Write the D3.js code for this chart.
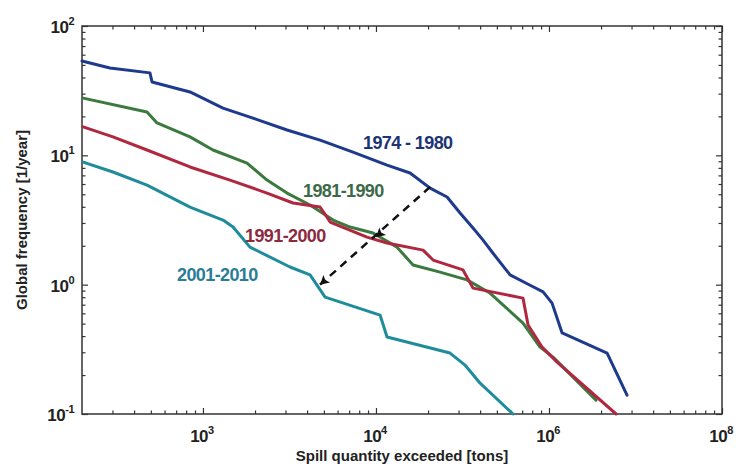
<!DOCTYPE html>
<html>
<head>
<meta charset="utf-8">
<script src="https://cdn.jsdelivr.net/npm/d3@7/dist/d3.min.js"></script>
<style>
  body { margin: 0; background: #fff; }
  svg { font-family: "Liberation Sans", Arial, sans-serif; }
</style>
</head>
<body>
<div id="chart"></div>
<script>
// spill quantity exceeded [tons] and global frequency [1/year]
const spill7480 = [200, 290, 494, 508, 842, 1306, 1946, 3062, 4753, 7362, 11590, 15740, 20560, 25760, 30630, 36390, 41590, 47500, 59560, 77790, 92470, 104200, 119100, 216700, 282500];
const freq7480  = [53.6, 47.3, 43.4, 36.9, 30.9, 23.2, 19.4, 15.7, 13.1, 10.6, 8.41, 7.30, 5.58, 4.76, 3.58, 2.74, 2.21, 1.75, 1.19, 0.99, 0.88, 0.72, 0.423, 0.296, 0.140];

const spill8190 = [203, 475, 543, 842, 1143, 1798, 2346, 3062, 4160, 5650, 7079, 9617, 13240, 16380, 23450, 33590, 45600, 70790, 88770, 105600, 187000];
const freq8190  = [27.7, 21.6, 17.8, 13.9, 11.0, 8.71, 6.44, 5.11, 4.13, 3.16, 2.79, 2.51, 1.95, 1.42, 1.25, 1.09, 0.861, 0.505, 0.329, 0.275, 0.128];

const spill9100 = [203, 302, 475, 842, 1433, 2346, 3318, 4753, 5213, 5431, 8873, 11590, 18710, 21390, 31850, 36390, 70790, 75690, 91200, 111400, 244300];
const freq9100  = [16.6, 13.9, 11.0, 8.13, 6.44, 5.11, 4.28, 3.98, 3.33, 3.05, 2.33, 2.10, 1.85, 1.55, 1.30, 0.94, 0.787, 0.488, 0.329, 0.252, 0.1];

const spill0110 = [203, 302, 475, 842, 1306, 1493, 1870, 3185, 4160, 4563, 5082, 10560, 11590, 26800, 32710, 39990, 61960];
const freq0110  = [8.87, 7.43, 5.89, 3.98, 3.16, 2.79, 1.95, 1.37, 1.19, 0.993, 0.802, 0.582, 0.394, 0.296, 0.239, 0.173, 0.1];

const periods = ['1974 - 1980', '1981-1990', '1991-2000', '2001-2010'];

// dashed arrow between the curves
const arrowSpill = [20560, 10000, 4750];
const arrowFreq  = [5.7, 2.33, 1.0];

const xTicks = [1e3, 1e4, 1e5, 1e6];
const xTickExp = ['3', '4', '6', '8'];
const yTicks = [0.1, 1, 10, 100];
const yTickExp = ['-1', '0', '1', '2'];

// frame
const WIDTH = 736, HEIGHT = 466;
const MARGINS = {left: 82, right: 14, top: 26, bottom: 52};

const svg = d3.select('#chart').append('svg')
  .attr('width', WIDTH)
  .attr('height', HEIGHT);

const x = d3.scaleLog().domain([200, 1e6]).range([MARGINS.left, WIDTH - MARGINS.right]);
const y = d3.scaleLog().domain([0.1, 100]).range([HEIGHT - MARGINS.bottom, MARGINS.top]);

// minor ticks 2..9 per decade
function minors(dom) {
  const out = [];
  for (let e = Math.floor(Math.log10(dom[0])); e <= Math.ceil(Math.log10(dom[1])); e++) {
    for (let k = 2; k <= 9; k++) {
      const v = k * Math.pow(10, e);
      if (v > dom[0] && v < dom[1]) out.push(v);
    }
  }
  return out;
}
const xMinor = minors(x.domain());
const yMinor = minors(y.domain());

const axisColor = '#333';
function drawAxis(axisFn, scale, vals, size, transform) {
  const g = svg.append('g')
    .attr('transform', transform)
    .call(axisFn(scale).tickValues(vals).tickSize(size).tickFormat(''));
  g.select('.domain').remove();
  g.selectAll('line').attr('stroke', axisColor).attr('stroke-width', 1.2);
}
const bottomT = `translate(0,${HEIGHT - MARGINS.bottom})`;
const topT = `translate(0,${MARGINS.top})`;
const leftT = `translate(${MARGINS.left},0)`;
const rightT = `translate(${WIDTH - MARGINS.right},0)`;
drawAxis(d3.axisBottom, x, xTicks, -6, bottomT);
drawAxis(d3.axisBottom, x, xMinor, -3.5, bottomT);
drawAxis(d3.axisTop, x, xTicks, -6, topT);
drawAxis(d3.axisTop, x, xMinor, -3.5, topT);
drawAxis(d3.axisLeft, y, yTicks, -6, leftT);
drawAxis(d3.axisLeft, y, yMinor, -3.5, leftT);
drawAxis(d3.axisRight, y, yTicks, -6, rightT);
drawAxis(d3.axisRight, y, yMinor, -3.5, rightT);

// box
svg.append('rect')
  .attr('x', MARGINS.left).attr('y', MARGINS.top)
  .attr('width', WIDTH - MARGINS.left - MARGINS.right)
  .attr('height', HEIGHT - MARGINS.top - MARGINS.bottom)
  .attr('fill', 'none')
  .attr('stroke', axisColor)
  .attr('stroke-width', 1.5);

// tick labels: 10 with superscript
const labelStyle = g => g.attr('font-size', 17).attr('font-weight', 'bold').attr('fill', '#222').attr('letter-spacing', -0.5);
xTicks.forEach((v, i) => {
  const t = svg.append('text')
    .attr('x', x(v) - 1)
    .attr('y', HEIGHT - MARGINS.bottom + 28)
    .attr('text-anchor', 'middle')
    .call(labelStyle);
  t.append('tspan').text('10');
  t.append('tspan').attr('dy', -8).attr('font-size', 11).text(xTickExp[i]);
});
yTicks.forEach((v, i) => {
  const t = svg.append('text')
    .attr('x', MARGINS.left - 8)
    .attr('y', y(v) + 7)
    .attr('text-anchor', 'end')
    .call(labelStyle);
  t.append('tspan').text('10');
  t.append('tspan').attr('dy', -8).attr('font-size', 11).text(yTickExp[i]);
});

// axis titles
svg.append('text')
  .attr('x', (MARGINS.left + WIDTH - MARGINS.right) / 2 + 0)
  .attr('y', HEIGHT - 5)
  .attr('text-anchor', 'middle')
  .attr('font-size', 15).attr('font-weight', 'bold').attr('fill', '#222')
  .text('Spill quantity exceeded [tons]');
svg.append('text')
  .attr('transform', `translate(27,${(MARGINS.top + HEIGHT - MARGINS.bottom) / 2}) rotate(-90)`)
  .attr('text-anchor', 'middle')
  .attr('font-size', 15).attr('font-weight', 'bold').attr('fill', '#222')
  .text('Global frequency [1/year]');

// curves
const line = d3.line().x(d => x(d[0])).y(d => y(d[1]));
const series = [
  {xs: spill7480, ys: freq7480, color: '#1e3a8c'},
  {xs: spill8190, ys: freq8190, color: '#3b7a3e'},
  {xs: spill9100, ys: freq9100, color: '#b0283f'},
  {xs: spill0110, ys: freq0110, color: '#1f8c9b'}
];
// draw oldest on top as in the figure
[3, 1, 2, 0].forEach(i => {
  const s = series[i];
  svg.append('path')
    .datum(d3.zip(s.xs, s.ys))
    .attr('fill', 'none')
    .attr('stroke', s.color)
    .attr('stroke-width', 3)
    .attr('stroke-linejoin', 'round')
    .attr('stroke-linecap', 'round')
    .attr('d', line);
});

// dashed arrow
const arrowPts = d3.zip(arrowSpill, arrowFreq);
svg.append('path')
  .datum([arrowPts[0], arrowPts[2]])
  .attr('fill', 'none')
  .attr('stroke', '#111')
  .attr('stroke-width', 2.5)
  .attr('stroke-dasharray', '8,6')
  .attr('d', line);
// arrowheads pointing down-left
const ang = Math.atan2(y(arrowPts[2][1]) - y(arrowPts[0][1]), x(arrowPts[2][0]) - x(arrowPts[0][0])) * 180 / Math.PI;
[arrowPts[1], arrowPts[2]].forEach(p => {
  svg.append('path')
    .attr('d', 'M0,0 L-9,-5 L-7,0 L-9,5 Z')
    .attr('fill', '#111')
    .attr('transform', `translate(${x(p[0])},${y(p[1])}) rotate(${ang})`);
});

// period labels
const labelAt = [[8413, 11.2], [3787, 4.76], [1750, 2.13], [708, 1.07]];
const labelColor = ['#1d3474', '#3c6a48', '#8c2a40', '#2a7d96'];
periods.forEach((p, i) => {
  svg.append('text')
    .attr('x', x(labelAt[i][0]))
    .attr('y', y(labelAt[i][1]))
    .attr('font-size', 18)
    .attr('font-weight', 'bold')
    .attr('letter-spacing', -0.6)
    .attr('fill', labelColor[i])
    .text(p);
});
</script>
</body>
</html>
